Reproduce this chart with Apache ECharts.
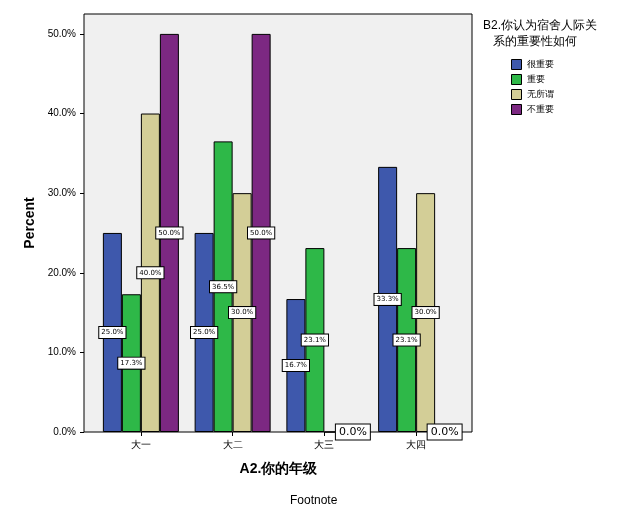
<!DOCTYPE html>
<html><head><meta charset="utf-8">
<script src="https://cdn.jsdelivr.net/npm/echarts@6/dist/echarts.min.js"></script>
<style>html,body{margin:0;padding:0;background:#fff}#c{width:631px;height:526px}</style>
</head><body><div id="c"></div>
<script>
const categories = ['大一','大二','大三','大四'];
const seriesNames = ['很重要','重要','无所谓','不重要'];
const vHen = [25.0, 25.0, 16.7, 33.3];
const vZhong = [17.3, 36.5, 23.1, 23.1];
const vWu = [40.0, 30.0, 0.0, 30.0];
const vBu = [50.0, 50.0, 0.0, 0.0];
const colors = ['#3e58ac','#2eb848','#d3ce97','#7c2882'];
const yTicks = [0,10,20,30,40,50];

const chart = echarts.init(document.getElementById('c'));
function mk(name, data, color, hideZero){
  return {
    name, type:'bar', barWidth:19, barGap:'0%', data: data.map(v=>{
      const d={value:v};
      if(v===0){d.label = hideZero ? {show:false} : {fontSize:11,padding:[2,3]};}
      return d;
    }),
    itemStyle:{color, borderColor:'#000', borderWidth:1},
    label:{show:true, position:'inside', formatter:p=>p.value.toFixed(1)+'%',
      color:'#000', fontSize:7, backgroundColor:'#fff', borderColor:'#000', borderWidth:1, padding:[2,2],
      fontFamily:'DejaVu Sans'}
  };
}
chart.setOption({
  animation:false,
  backgroundColor:'#fff',
  grid:{left:95,right:169,top:14,bottom:94},
  xAxis:{type:'category',data:categories,name:'A2.你的年级',nameLocation:'middle',nameGap:30,
    nameTextStyle:{fontWeight:'bold',fontSize:14,color:'#000'},
    axisLine:{show:false},axisTick:{show:true,alignWithLabel:true,length:4,lineStyle:{color:'#000'}},
    axisLabel:{color:'#000',fontSize:10}},
  yAxis:{type:'value',min:0,max:52.5,offset:11,name:'Percent',nameLocation:'middle',nameGap:42,
    nameTextStyle:{fontWeight:'bold',fontSize:14,color:'#000',fontFamily:'Liberation Sans'},
    axisLine:{show:false},axisTick:{show:true,length:4,customValues:yTicks,lineStyle:{color:'#000'}},
    splitLine:{show:false},
    axisLabel:{color:'#000',fontSize:10,customValues:yTicks,formatter:v=>v.toFixed(1)+'%'}},
  legend:{orient:'vertical',left:506,top:54,itemWidth:10,itemHeight:10,itemGap:4,icon:'rect',
    textStyle:{fontSize:9,color:'#000'},data:seriesNames,
    itemStyle:{borderColor:'#000',borderWidth:1}},
  graphic:[
    {type:'rect',z:-10,silent:true,shape:{x:84,y:14,width:388,height:418},style:{fill:'#f0f0f0',stroke:'#000',lineWidth:1}},
    {type:'text',left:483,top:18,style:{text:'B2.你认为宿舍人际关\n   系的重要性如何',fontSize:12,fill:'#000',lineHeight:16}},
    {type:'text',left:290,top:495,style:{text:'Footnote',fontSize:12,fill:'#000',fontFamily:'Liberation Sans'}}
  ],
  series:[mk(seriesNames[0],vHen,colors[0]),mk(seriesNames[1],vZhong,colors[1]),mk(seriesNames[2],vWu,colors[2],true),mk(seriesNames[3],vBu,colors[3])]
});
</script></body></html>
